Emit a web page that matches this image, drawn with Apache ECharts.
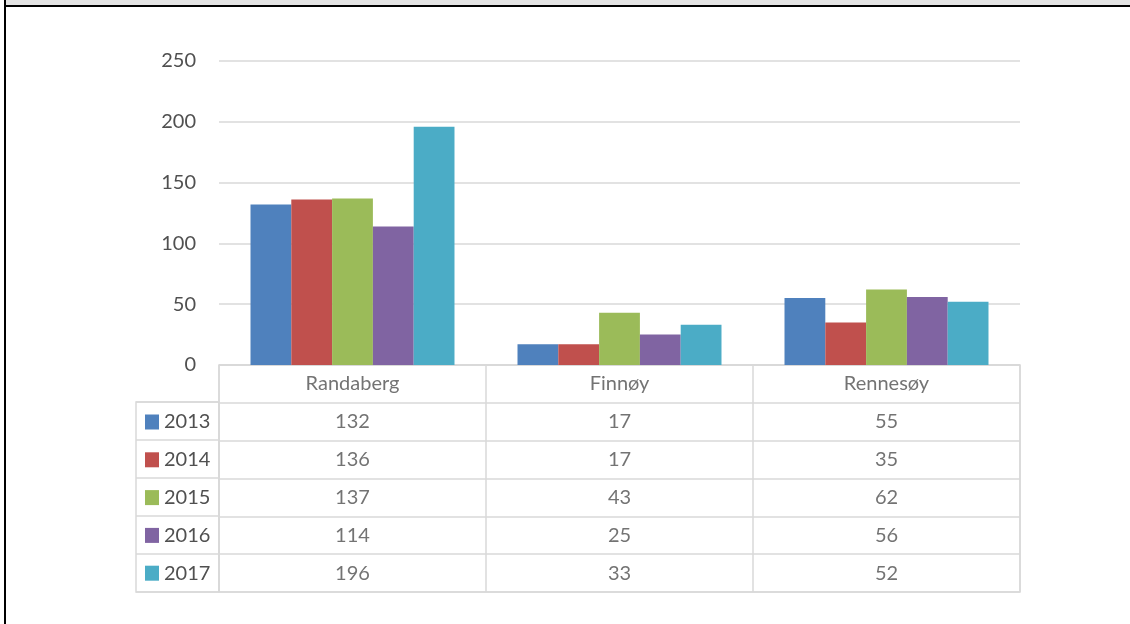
<!DOCTYPE html>
<html>
<head>
<meta charset="utf-8">
<script src="https://cdn.jsdelivr.net/npm/echarts@6/dist/echarts.min.js"></script>
<style>
html,body{margin:0;padding:0;background:#fff;}
#c{width:1130px;height:624px;}
</style>
</head>
<body>
<div id="c"></div>
<script>
var categories = ['Randaberg', 'Finnøy', 'Rennesøy'];
var years = ['2013', '2014', '2015', '2016', '2017'];
var v2013 = [132, 17, 55];
var v2014 = [136, 17, 35];
var v2015 = [137, 43, 62];
var v2016 = [114, 25, 56];
var v2017 = [196, 33, 52];
var yTicks = [0, 50, 100, 150, 200, 250];
var colors = ['#4f81bd', '#c0504d', '#9bbb59', '#8064a2', '#4bacc6'];

var seriesValues = [v2013, v2014, v2015, v2016, v2017];
var FONT = 'Lato';
var TXT = '#505050';
var LINE = '#d9d9d9';

var chart = echarts.init(document.getElementById('c'), null, {renderer: 'canvas'});

var tableRows = [''].concat(years);
var tableData = [];
categories.forEach(function (c, i) { tableData.push([i, 0, c]); });
seriesValues.forEach(function (vals, r) {
  vals.forEach(function (v, i) { tableData.push([i, r + 1, String(v)]); });
});

var series = seriesValues.map(function (vals, k) {
  return {
    name: years[k],
    type: 'bar',
    xAxisIndex: 0,
    yAxisIndex: 0,
    data: vals,
    barGap: '0%',
    barCategoryGap: '23.6%',
    itemStyle: {color: colors[k]}
  };
});
series.push({
  type: 'scatter',
  xAxisIndex: 1,
  yAxisIndex: 1,
  symbolSize: 0,
  silent: true,
  data: tableData,
  label: {
    show: true,
    position: 'inside',
    fontFamily: FONT,
    fontSize: 20,
    color: TXT,
    formatter: function (p) { return p.data[2]; }
  }
});

chart.setOption({
  animation: false,
  color: colors,
  textStyle: {fontFamily: FONT},
  graphic: [
    {type: 'rect', shape: {x: 6, y: 0, width: 1124, height: 5}, style: {fill: '#e3e3e3'}, silent: true},
    {type: 'rect', shape: {x: 4, y: 5, width: 1126, height: 2}, style: {fill: '#000'}, silent: true},
    {type: 'rect', shape: {x: 4, y: 0, width: 2, height: 624}, style: {fill: '#000'}, silent: true}
  ],
  legend: {
    data: years,
    orient: 'vertical',
    left: 145,
    top: 411,
    padding: 0,
    itemWidth: 14,
    itemHeight: 15,
    itemGap: 15.8,
    icon: 'rect',
    selectedMode: false,
    textStyle: {fontFamily: FONT, fontSize: 20, color: TXT, lineHeight: 22}
  },
  grid: [
    {left: 219, right: 110, top: 61, height: 304},
    {left: 219, right: 110, top: 365, height: 227, show: true, borderColor: LINE, borderWidth: 1.5, backgroundColor: 'transparent'},
    {left: 136, width: 83, top: 402, height: 190, show: true, borderColor: LINE, borderWidth: 1.5, backgroundColor: 'transparent'}
  ],
  xAxis: [
    {gridIndex: 0, type: 'category', data: categories, axisLine: {show: false}, axisTick: {show: false}, axisLabel: {show: false}},
    {gridIndex: 1, type: 'category', data: categories, axisLine: {show: false}, axisTick: {show: false}, axisLabel: {show: false},
      splitLine: {show: true, lineStyle: {color: LINE, width: 1.5}}},
    {gridIndex: 2, type: 'value', min: 0, max: 1, show: false}
  ],
  yAxis: [
    {gridIndex: 0, type: 'value', min: 0, max: 250, interval: 50,
      axisLine: {show: false}, axisTick: {show: false},
      axisLabel: {fontFamily: FONT, fontSize: 20, color: TXT, margin: 23,
        formatter: function (v) { return yTicks.indexOf(v) >= 0 ? String(v) : ''; }},
      splitLine: {show: true, lineStyle: {color: LINE, width: 1.5}}},
    {gridIndex: 1, type: 'category', data: tableRows, inverse: true,
      axisLine: {show: false}, axisTick: {show: false}, axisLabel: {show: false},
      splitLine: {show: true, lineStyle: {color: LINE, width: 1.5}}},
    {gridIndex: 2, type: 'category', data: years, inverse: true,
      axisLine: {show: false}, axisTick: {show: false}, axisLabel: {show: false},
      splitLine: {show: true, lineStyle: {color: LINE, width: 1.5}}}
  ],
  series: series
});
</script>
</body>
</html>
